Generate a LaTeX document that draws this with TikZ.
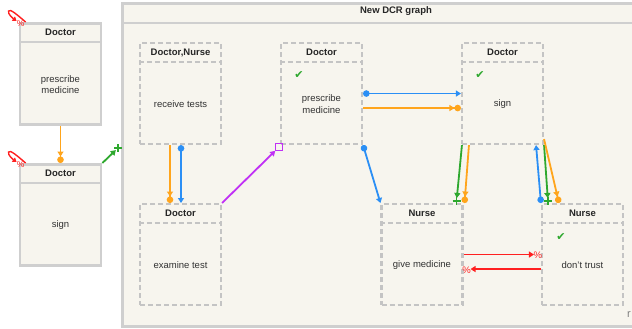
\documentclass[tikz,border=0pt]{standalone}
\usepackage{fontspec}
\setmainfont{Liberation Sans}
\newfontfamily\symfont{DejaVu Sans}
\usetikzlibrary{arrows.meta,calc}
\definecolor{cream}{HTML}{F7F5EE}
\definecolor{boxgray}{HTML}{CFCFCF}
\definecolor{dashgray}{HTML}{C4C4C4}
\definecolor{dcrblue}{HTML}{2B8FF5}
\definecolor{dcrorange}{HTML}{FFA51C}
\definecolor{dcrgreen}{HTML}{2EA82E}
\definecolor{dcrred}{HTML}{FF2020}
\definecolor{dcrpurple}{HTML}{C030F5}
\definecolor{txt}{HTML}{333333}
\newcommand{\dcract}[6]{%
  \node[#6, minimum width=81pt, minimum height=101pt, anchor=north] (#1) at (#2,#3) {};
  \draw[#6] ($(#1.north west)+(0,20)$) -- ($(#1.north east)+(0,20)$);
  \node[rolefont] (#1-role) at ($(#1.north)+(0,10.5)$) {#4};
  \node[labelfont] (#1-label) at ($(#1.center)+(0,10.5)$) {#5};
}
\begin{document}
\begin{tikzpicture}[x=1pt,y=-1pt,
  font=\fontsize{9.5}{11.5}\selectfont,
  solidbox/.style={draw=boxgray, line width=2.8pt, fill=cream},
  dashbox/.style={draw=dashgray, line width=2.1pt, dash pattern=on 5pt off 3pt},
  rolefont/.style={font=\fontsize{9.5}{11.5}\selectfont\bfseries, text=black!85, inner sep=0pt},
  labelfont/.style={align=center, text=txt, inner sep=0pt},
  checkmark/.style={text=dcrgreen, font=\symfont\fontsize{11}{12}\selectfont, inner sep=0pt},
  condition/.style={draw=dcrorange, line width=1.8pt, -{Triangle[width=6pt,length=5pt] Circle[length=6.5pt]}},
  response/.style={draw=dcrblue, line width=1.8pt, {Circle[length=6.5pt]}-{Triangle[width=6pt,length=5pt]}},
  include/.style={draw=dcrgreen, line width=1.8pt, -{Triangle[width=6pt,length=5pt]}, shorten >=3pt},
  exclude/.style={draw=dcrred, line width=1.8pt, -{Triangle[width=6pt,length=5pt]}},
  milestone/.style={draw=dcrpurple, line width=1.8pt, -{Triangle[width=6pt,length=5pt]}},
  pct/.style={text=dcrred, font=\fontsize{9.5}{10}\selectfont, inner sep=0pt},
  plusmark/.style={draw=dcrgreen, line width=1.4pt}
]
\useasboundingbox (0,0) rectangle (632,329);
\fill[white] (0,0) rectangle (632,329);

% outer graph box
\node[solidbox, anchor=north west, minimum width=530pt, minimum height=323pt] (graph) at (121,2) {};
\draw[draw=boxgray, line width=2.8pt] ($(graph.north west)+(0,21)$) -- ($(graph.north east)+(0,21)$);
\node[rolefont] (title) at (396,11.5) {New DCR graph};
\node[text=gray, inner sep=0pt, font=\fontsize{11}{12}\selectfont] (rmark) at (629,315) {r};

% left activities
\dcract{L1}{60.5}{22}{Doctor}{prescribe\\medicine}{solidbox}
\dcract{L2}{60.5}{163}{Doctor}{sign}{solidbox}

% inner activities
\dcract{rt}{180.5}{42}{Doctor,Nurse}{receive tests}{dashbox}
\dcract{pm}{321.5}{42}{Doctor}{prescribe\\medicine}{dashbox}
\dcract{sg}{502.5}{42}{Doctor}{sign}{dashbox}
\dcract{et}{180.5}{203}{Doctor}{examine test}{dashbox}
\dcract{gm}{422}{203}{Nurse}{give medicine}{dashbox}
\dcract{dt}{582.5}{203}{Nurse}{don't trust}{dashbox}

\node[checkmark] (pm-check) at ($(pm.north west)+(19,33)$) {✔};
\node[checkmark] (sg-check) at ($(sg.north west)+(19,33)$) {✔};
\node[checkmark] (dt-check) at ($(dt.north west)+(20,34)$) {✔};

% left connectors
\draw[condition] (L1.south) -- (L2.north);
\coordinate (gin) at (118,148);
\draw[include] (L2.north east) -- (gin);
\draw[plusmark] ($(gin)+(-4,0)$) -- ($(gin)+(4,0)$) ($(gin)+(0,-4)$) -- ($(gin)+(0,4)$);

% self exclusion loops
\foreach \b in {L1,L2}{
  \draw[exclude, line width=1.4pt, -{Triangle[width=5pt,length=4pt]}, shift={(\b.north west)}]
    (7,0) .. controls (0,-6) and (-9,-14) .. (-10,-11)
    .. controls (-11,-8) and (-6,-4) .. (-2,-1);
  \node[pct, font=\fontsize{8.5}{9}\selectfont] at ($(\b.north west)+(2,2)$) {\%};
}

% receive tests -> examine test
\draw[condition] ($(rt.south)+(-10.5,0)$) -- ($(et.north)+(-10.5,0)$);
\draw[response] ($(rt.south)+(0.5,0)$) -- ($(et.north)+(0.5,0)$);

% examine test -> prescribe medicine (milestone)
\node[draw=dcrpurple, line width=1pt, minimum size=6.5pt, inner sep=0pt] (msq) at ($(pm.south west)+(-1,2)$) {};
\draw[milestone] (et.north east) -- (msq.south west);

% prescribe -> sign
\draw[response] (pm.east) -- (sg.west);
\draw[condition] ($(pm.east)+(0,14.5)$) -- ($(sg.west)+(0,14.5)$);

% prescribe -> give medicine
\draw[response] (pm.south east) -- (gm.north west);

% sign -> give medicine
\coordinate (gmplus) at ($(gm.north east)+(-7,-2)$);
\draw[include] ($(sg.south west)+(1,0)$) -- (gmplus);
\draw[plusmark] ($(gmplus)+(-4,0)$) -- ($(gmplus)+(4,0)$) ($(gmplus)+(0,-4)$) -- ($(gmplus)+(0,4)$);
\draw[condition] ($(sg.south west)+(8,0)$) -- ($(gm.north east)+(1,0)$);

% don't trust -> sign, sign -> don't trust
\draw[response] (dt.north west) -- ($(sg.south east)+(-8,0)$);
\coordinate (dtplus) at ($(dt.north west)+(7,-2)$);
\draw[include] (sg.south east) -- (dtplus);
\draw[plusmark] ($(dtplus)+(-4,0)$) -- ($(dtplus)+(4,0)$) ($(dtplus)+(0,-4)$) -- ($(dtplus)+(0,4)$);
\draw[condition] ($(sg.south east)+(0,-6)$) -- ($(dt.north west)+(18,0)$);

% exclusions between give medicine and don't trust
\draw[exclude] (gm.east) -- ($(dt.west)+(-7,0)$);
\node[pct] (ex1) at ($(dt.west)+(-3,1)$) {\%};
\draw[exclude] ($(dt.west)+(0,14.5)$) -- ($(gm.east)+(7,14.5)$);
\node[pct] (ex2) at ($(gm.east)+(3,15.5)$) {\%};
\end{tikzpicture}
\end{document}
